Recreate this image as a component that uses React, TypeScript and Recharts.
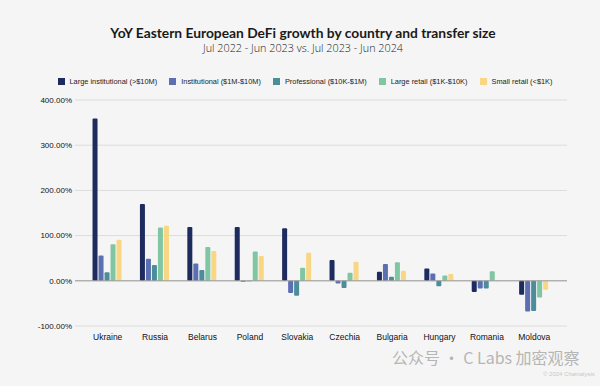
import * as React from "react";
import { BarChart, Bar, XAxis, YAxis, CartesianGrid, ReferenceLine } from "recharts";

const countries = ["Ukraine", "Russia", "Belarus", "Poland", "Slovakia", "Czechia", "Bulgaria", "Hungary", "Romania", "Moldova"];
const largeInstitutional = [359, 170, 119, 119, 116, 46, 20, 27, -25, -31];
const institutional = [56, 49, 38, -2, -27, -6, 37, 16, -17, -68];
const professional = [19, 35, 24, -1, -33, -16, 9, -12, -17, -67];
const largeRetail = [81, 118, 75, 65, 29, 18, 41, 12, 21, -37];
const smallRetail = [91, 122, 66, 55, 62, 42, 22, 15, -1, -20];
const yTicks = [-100, 0, 100, 200, 300, 400];

const series = [
  { key: "li", name: "Large institutional (>$10M)", color: "#1d2b5e", values: largeInstitutional },
  { key: "in", name: "Institutional ($1M-$10M)", color: "#5b6fb2", values: institutional },
  { key: "pr", name: "Professional ($10K-$1M)", color: "#4b8e9a", values: professional },
  { key: "lr", name: "Large retail ($1K-$10K)", color: "#80c6a2", values: largeRetail },
  { key: "sr", name: "Small retail (<$1K)", color: "#f8d683", values: smallRetail },
];

const data = countries.map((c, i) => {
  const row: Record<string, string | number> = { country: c };
  series.forEach((s) => (row[s.key] = s.values[i]));
  return row;
});

const fmtPct = (v: number) => `${v.toFixed(2)}%`;

export default function App() {
  return (
    <div
      style={{
        position: "absolute",
        left: 0,
        top: 0,
        width: 600,
        height: 386,
        background: "#f5f5f5",
        fontFamily: "Arial, 'Liberation Sans', sans-serif",
        overflow: "hidden",
      }}
    >
      <div
        style={{
          position: "absolute",
          top: 25,
          width: 606,
          textAlign: "center",
          fontFamily: "Lato, sans-serif",
          fontWeight: 700,
          fontSize: 13.8,
          lineHeight: "15px",
          color: "#1a1a1a",
        }}
      >
        YoY Eastern European DeFi growth by country and transfer size
      </div>
      <div
        style={{
          position: "absolute",
          top: 41,
          width: 606,
          textAlign: "center",
          fontFamily: "'Open Sans', sans-serif",
          fontWeight: 300,
          fontSize: 10.8,
          lineHeight: "13px",
          color: "#222",
        }}
      >
        Jul 2022 - Jun 2023 vs. Jul 2023 - Jun 2024
      </div>

      <div
        style={{
          position: "absolute",
          top: 77,
          left: 0,
          width: 610,
          display: "flex",
          justifyContent: "center",
          gap: 12,
          fontSize: 7.4,
          color: "#222",
        }}
      >
        {series.map((s) => (
          <div key={s.key} style={{ display: "flex", alignItems: "center", gap: 5 }}>
            <span style={{ width: 7, height: 7, background: s.color, display: "inline-block" }} />
            <span>{s.name}</span>
          </div>
        ))}
      </div>

      <div style={{ position: "absolute", left: 0, top: 0 }}>
        <BarChart
          width={600}
          height={350}
          data={data}
          margin={{ top: 100, right: 33, bottom: 4, left: 0 }}
          barCategoryGap="18%"
          barGap={1}
        >
          <CartesianGrid vertical={false} stroke="#dcdcdc" strokeWidth={1} />
          <XAxis
            dataKey="country"
            axisLine={false}
            tickLine={false}
            height={20}
            padding={{ left: 9, right: 9 }}
            tick={{ fontSize: 8.5, fill: "#111" }}
            tickMargin={2}
            interval={0}
          />
          <YAxis
            domain={[-100, 400]}
            ticks={yTicks}
            width={75}
            axisLine={false}
            tickLine={false}
            tickSize={0}
            tickMargin={3}
            tickFormatter={fmtPct}
            tick={{ fontSize: 8, fill: "#111" }}
          />
          <ReferenceLine y={0} stroke="#9a9a9a" strokeWidth={1} />
          {series.map((s) => (
            <Bar
              key={s.key}
              dataKey={s.key}
              name={s.name}
              fill={s.color}
              radius={[1, 1, 1, 1]}
              isAnimationActive={false}
            />
          ))}
        </BarChart>
      </div>

      <div
        style={{
          position: "absolute",
          left: 392,
          top: 346,
          fontFamily: "'Noto Sans CJK SC', sans-serif",
          fontSize: 16,
          lineHeight: "22px",
          color: "#b5b5b5",
          whiteSpace: "nowrap",
        }}
      >
        公众号 · C Labs 加密观察
      </div>
      <div
        style={{
          position: "absolute",
          left: 543,
          top: 371,
          fontSize: 6,
          lineHeight: "7px",
          color: "#c8c8c8",
          whiteSpace: "nowrap",
        }}
      >
        © 2024 Chainalysis
      </div>
    </div>
  );
}
